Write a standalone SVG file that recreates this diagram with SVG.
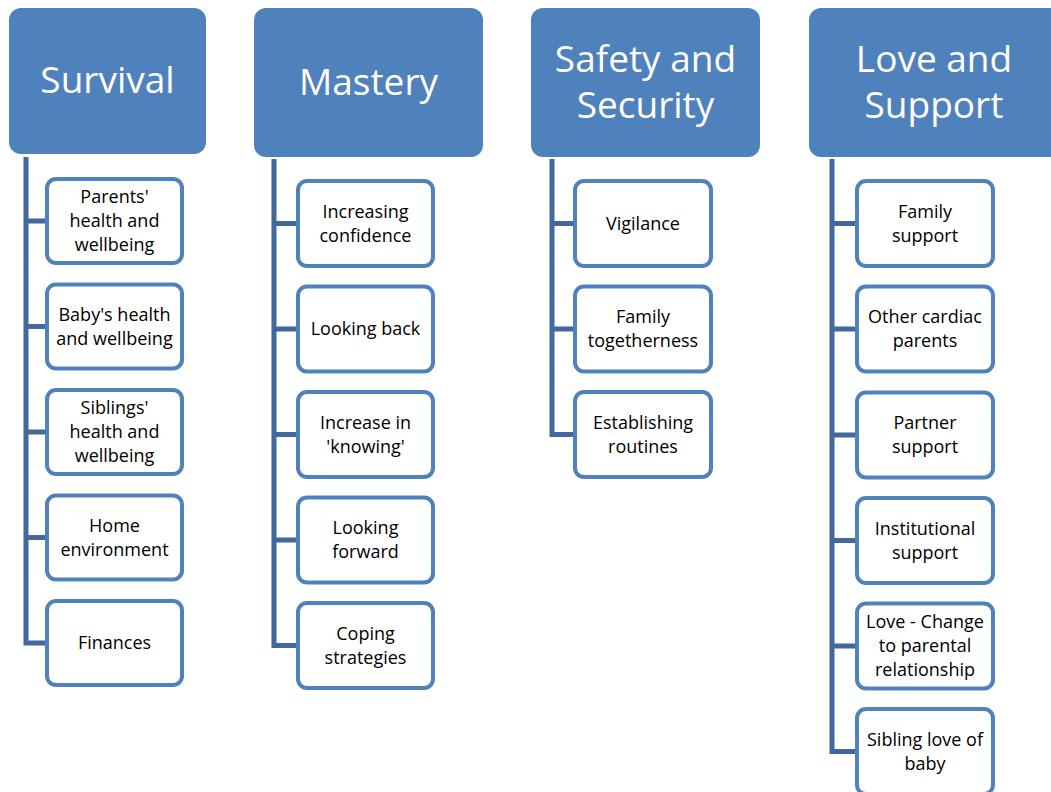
<svg xmlns="http://www.w3.org/2000/svg" width="1051" height="792" viewBox="0 0 1051 792">
<style>
.hdr{fill:#4F81BD;}
.ht{font-family:"Open Sans","Liberation Sans",sans-serif;font-size:37px;fill:#FFFFFF;text-anchor:middle;}
.box{fill:#FFFFFF;stroke:#4F81BD;stroke-width:4;}
.bt{font-family:"Open Sans","Liberation Sans",sans-serif;font-size:18px;fill:#000000;text-anchor:middle;}
.con{fill:none;stroke:#41699D;stroke-width:5;stroke-linejoin:miter;}
</style>
<rect width="1051" height="792" fill="#FFFFFF"/>
<g id="connectors">
<path class="con" d="M26 157 V643 H45 M26 221 H45 M26 326.5 H45 M26 432 H45 M26 537.5 H45"/>
<path class="con" d="M274 159 V645.5 H296 M274 223.5 H296 M274 329 H296 M274 434.5 H296 M274 540 H296"/>
<path class="con" d="M552 159 V434.5 H573 M552 223.5 H573 M552 329 H573"/>
<path class="con" d="M832 159 V751.5 H855 M832 223.5 H855 M832 329 H855 M832 435 H855 M832 540.5 H855 M832 646 H855"/>
</g>
<g id="survival">
<rect class="hdr" x="9" y="8" width="197" height="146" rx="12"/>
<text class="ht" x="107.5" y="93">Survival</text>
</g>
<g id="mastery">
<rect class="hdr" x="254" y="8" width="229" height="149" rx="12"/>
<text class="ht" x="368.5" y="95">Mastery</text>
</g>
<g id="safety">
<rect class="hdr" x="531" y="8" width="229" height="149" rx="12"/>
<text class="ht" x="645.5" y="72">Safety and</text>
<text class="ht" x="645.5" y="118">Security</text>
</g>
<g id="love">
<rect class="hdr" x="809" y="8" width="260" height="149" rx="12"/>
<text class="ht" x="934" y="72">Love and</text>
<text class="ht" x="934" y="118">Support</text>
</g>
<!-- Survival children -->
<g id="s1"><rect class="box" x="47" y="179" width="135" height="84" rx="9"/>
<text class="bt" x="114.5" y="203">Parents'</text><text class="bt" x="114.5" y="227">health and</text><text class="bt" x="114.5" y="251">wellbeing</text></g>
<g id="s2"><rect class="box" x="47" y="284.5" width="135" height="84" rx="9"/>
<text class="bt" x="114.5" y="320.5">Baby's health</text><text class="bt" x="114.5" y="344.5">and wellbeing</text></g>
<g id="s3"><rect class="box" x="47" y="390" width="135" height="84" rx="9"/>
<text class="bt" x="114.5" y="414">Siblings'</text><text class="bt" x="114.5" y="438">health and</text><text class="bt" x="114.5" y="462">wellbeing</text></g>
<g id="s4"><rect class="box" x="47" y="495.5" width="135" height="84" rx="9"/>
<text class="bt" x="114.5" y="531.5">Home</text><text class="bt" x="114.5" y="555.5">environment</text></g>
<g id="s5"><rect class="box" x="47" y="601" width="135" height="84" rx="9"/>
<text class="bt" x="114.5" y="649">Finances</text></g>
<!-- Mastery children -->
<g id="m1"><rect class="box" x="298" y="181" width="135" height="85" rx="9"/>
<text class="bt" x="365.5" y="217.5">Increasing</text><text class="bt" x="365.5" y="241.5">confidence</text></g>
<g id="m2"><rect class="box" x="298" y="286.5" width="135" height="85" rx="9"/>
<text class="bt" x="365.5" y="335">Looking back</text></g>
<g id="m3"><rect class="box" x="298" y="392" width="135" height="85" rx="9"/>
<text class="bt" x="365.5" y="428.5">Increase in</text><text class="bt" x="365.5" y="452.5">'knowing'</text></g>
<g id="m4"><rect class="box" x="298" y="497.5" width="135" height="85" rx="9"/>
<text class="bt" x="365.5" y="534">Looking</text><text class="bt" x="365.5" y="558">forward</text></g>
<g id="m5"><rect class="box" x="298" y="603" width="135" height="85" rx="9"/>
<text class="bt" x="365.5" y="639.5">Coping</text><text class="bt" x="365.5" y="663.5">strategies</text></g>
<!-- Safety children -->
<g id="f1"><rect class="box" x="575" y="181" width="136" height="85" rx="9"/>
<text class="bt" x="643" y="229.5">Vigilance</text></g>
<g id="f2"><rect class="box" x="575" y="286.5" width="136" height="85" rx="9"/>
<text class="bt" x="643" y="323">Family</text><text class="bt" x="643" y="347">togetherness</text></g>
<g id="f3"><rect class="box" x="575" y="392" width="136" height="85" rx="9"/>
<text class="bt" x="643" y="428.5">Establishing</text><text class="bt" x="643" y="452.5">routines</text></g>
<!-- Love children -->
<g id="l1"><rect class="box" x="857" y="181" width="136" height="85" rx="9"/>
<text class="bt" x="925" y="217.5">Family</text><text class="bt" x="925" y="241.5">support</text></g>
<g id="l2"><rect class="box" x="857" y="286.5" width="136" height="85" rx="9"/>
<text class="bt" x="925" y="323">Other cardiac</text><text class="bt" x="925" y="347">parents</text></g>
<g id="l3"><rect class="box" x="857" y="392.5" width="136" height="85" rx="9"/>
<text class="bt" x="925" y="429">Partner</text><text class="bt" x="925" y="453">support</text></g>
<g id="l4"><rect class="box" x="857" y="498" width="136" height="85" rx="9"/>
<text class="bt" x="925" y="534.5">Institutional</text><text class="bt" x="925" y="558.5">support</text></g>
<g id="l5"><rect class="box" x="857" y="603.5" width="136" height="85" rx="9"/>
<text class="bt" x="925" y="628">Love - Change</text><text class="bt" x="925" y="652">to parental</text><text class="bt" x="925" y="676">relationship</text></g>
<g id="l6"><rect class="box" x="857" y="709" width="136" height="85" rx="9"/>
<text class="bt" x="925" y="745.5">Sibling love of</text><text class="bt" x="925" y="769.5">baby</text></g>
</svg>
